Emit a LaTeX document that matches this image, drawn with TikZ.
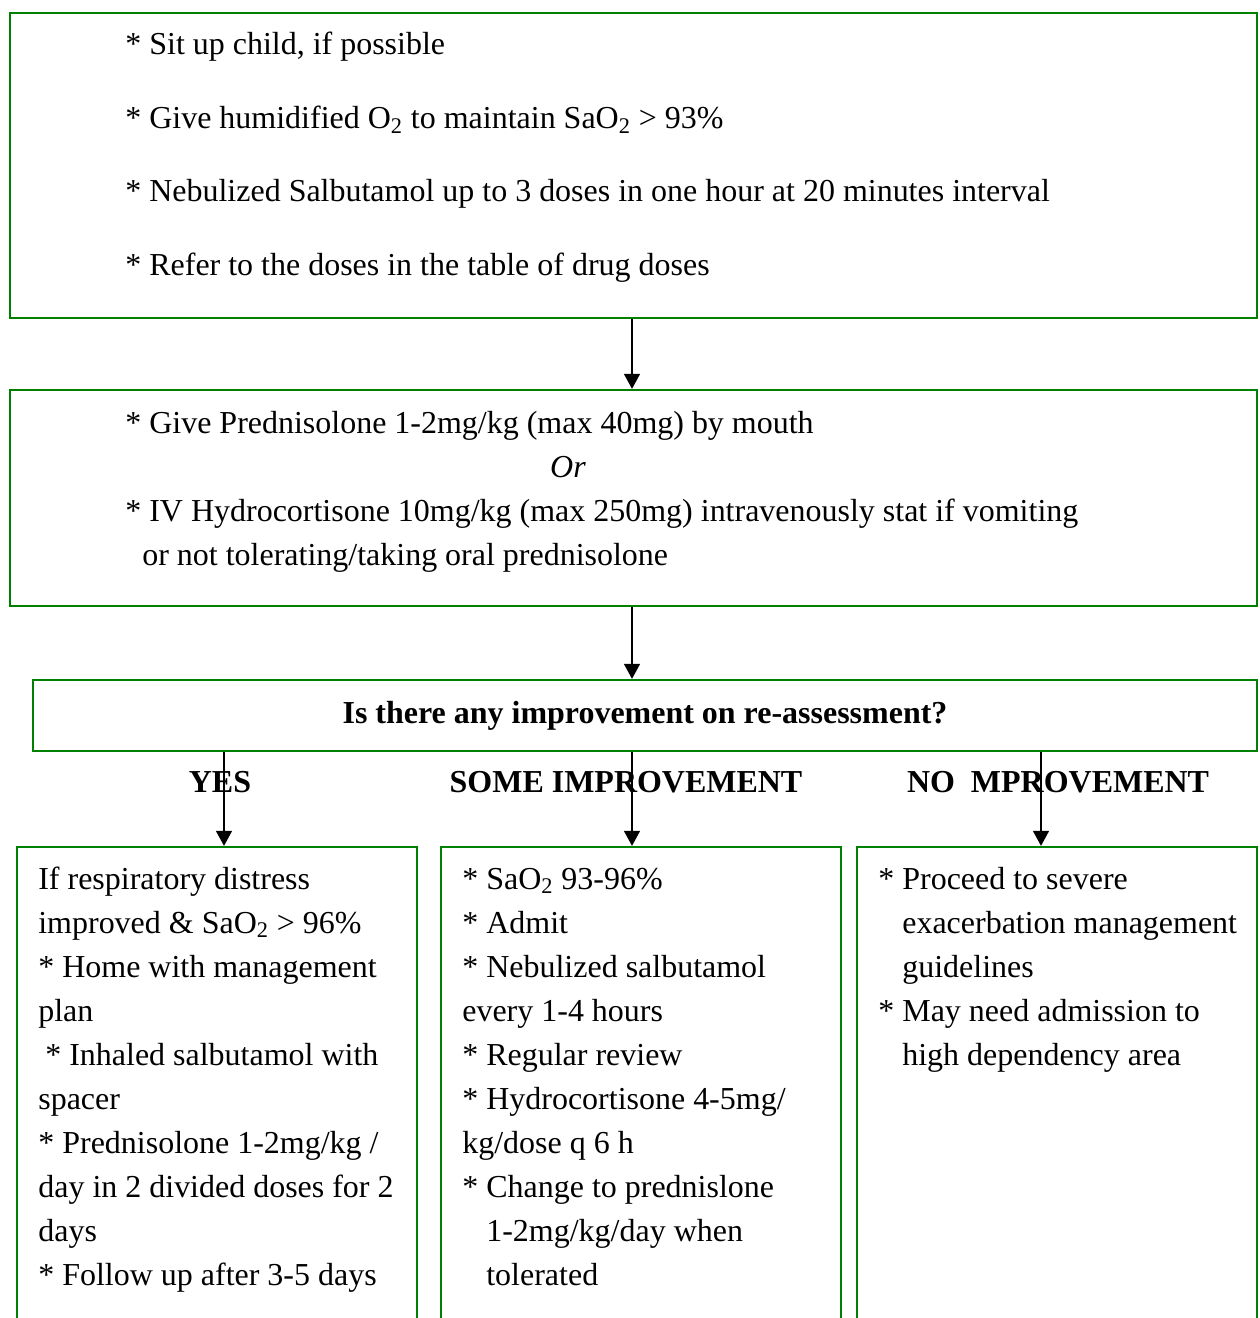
\documentclass[tikz,border=0pt]{standalone}
\usepackage{fontspec}
\setmainfont{Liberation Serif}
\usepackage{tikz}
\usetikzlibrary{positioning,arrows.meta,fit}
\definecolor{boxgreen}{RGB}{0,128,0}
\tikzset{caja/.style={draw=boxgreen,line width=1.3pt,inner sep=0pt},
         flecha/.style={line width=1pt,-{Triangle[width=9pt,length=8.5pt]}},
         linea/.style={anchor=base west,inner sep=0pt,font=\fontsize{18.2}{25}\selectfont},
         etiqueta/.style={anchor=base,inner sep=0pt,font=\fontsize{18.2}{25}\selectfont\bfseries}}

\begin{document}
\begin{tikzpicture}[x=0.02cm,y=-0.02cm]
            \useasboundingbox (0,0) rectangle (1259,1318);
            \clip (0,0) rectangle (1259,1318);

            % cajas
            \node[caja, fit={(10,13) (1257,318)}] (sit) {};
            \node[caja, fit={(10,390) (1257,606)}] (pred) {};
            \node[caja, fit={(33,680) (1257,751)}] (ask) {};
            \node[caja, fit={(17,847) (417,1340)}] (yes) {};
            \node[caja, fit={(441,847) (841,1340)}] (some) {};
            \node[caja, fit={(857,847) (1257,1340)}] (none) {};

            % texto de la primera caja
            \node[linea] (s1) at (125,55) {* Sit up child, if possible};
            \node[linea] (s2) at (125,129) {* Give humidified O\textsubscript{2} to maintain SaO\textsubscript{2} > 93\%};
            \node[linea] (s3) at (125,201) {* Nebulized Salbutamol up to 3 doses in one hour at 20 minutes interval};
            \node[linea] (s4) at (125,275) {* Refer to the doses in the table of drug doses};

            % texto de la segunda caja
            \node[linea] (p1) at (125,433) {* Give Prednisolone 1-2mg/kg (max 40mg) by mouth};
            \node[linea,anchor=base] (p2) at (568,477) {\itshape Or};
            \node[linea] (p3) at (125,521) {* IV Hydrocortisone 10mg/kg (max 250mg) intravenously stat if vomiting};
            \node[linea] (p4) at (142,565) {or not tolerating/taking oral prednisolone};

            \node[etiqueta] (q) at (645,723) {Is there any improvement on re-assessment?};
            \node[etiqueta] (ly) at (220,792) {YES};
            \node[etiqueta] (ls) at (626,792) {SOME IMPROVEMENT};
            \node[etiqueta] (ln) at (1058,792) {NO~ MPROVEMENT};

            % columnas
            \foreach \t [count=\i] in {{If respiratory distress},{improved \& SaO\textsubscript{2} > 96\%},
                {* Home with management},{plan},{\hspace{0.14cm}* Inhaled salbutamol with},{spacer},
                {* Prednisolone 1-2mg/kg /},{day in 2 divided doses for 2},{days},{* Follow up after 3-5 days}}
                \node[linea] (y\i) at (38,845+44*\i) {\t};
            \foreach \t [count=\i] in {{* SaO\textsubscript{2} 93-96\%},{* Admit},{* Nebulized salbutamol},
                {every 1-4 hours},{* Regular review},{* Hydrocortisone 4-5mg/},{kg/dose q 6 h},
                {* Change to prednislone},{\hspace{0.48cm}1-2mg/kg/day when},{\hspace{0.48cm}tolerated}}
                \node[linea] (m\i) at (462,845+44*\i) {\t};
            \foreach \t [count=\i] in {{* Proceed to severe},{\hspace{0.48cm}exacerbation management},
                {\hspace{0.48cm}guidelines},{* May need admission to},{\hspace{0.48cm}high dependency area}}
                \node[linea] (n\i) at (878,845+44*\i) {\t};

            % flechas
            \coordinate (c1) at (224,0);
            \coordinate (c2) at (632,0);
            \coordinate (c3) at (1041,0);
            \draw[flecha] (sit.south -| c2) -- (pred.north -| c2);
            \draw[flecha] (pred.south -| c2) -- (ask.north -| c2);
            \draw[flecha] (ask.south -| c1) -- (yes.north -| c1);
            \draw[flecha] (ask.south -| c2) -- (some.north -| c2);
            \draw[flecha] (ask.south -| c3) -- (none.north -| c3);
        \end{tikzpicture}
\end{document}
